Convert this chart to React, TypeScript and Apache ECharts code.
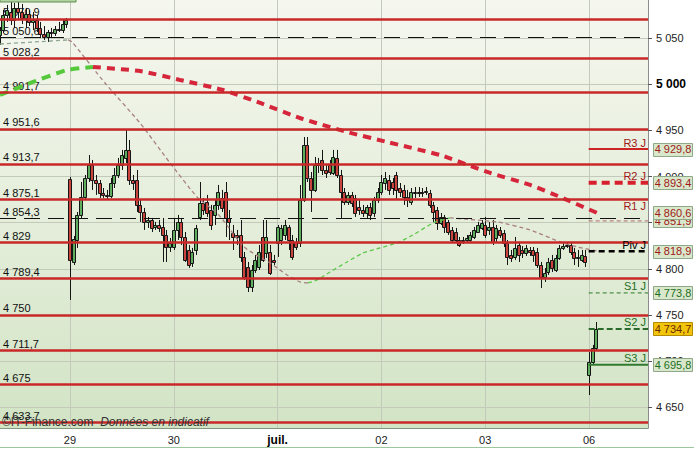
import React, { useEffect, useRef } from "react";
import * as echarts from "echarts";

const FONT = "'Liberation Sans', Arial, sans-serif";

// ---- axes ----
const dayTickIndex = [19, 47, 75, 103, 131, 159];
const dayLabels = ["29", "30", "juil.", "02", "03", "06"];
const priceTicks = [4650, 4700, 4750, 4800, 4850, 4900, 4950, 5000, 5050];
const X_MIN = 0.12;
const X_MAX = 174.9;
const Y_MIN = 4627.3;
const Y_MAX = 5091.5;

// ---- horizontal levels ----
const redLevels = [5070.9, 5028.2, 4991.7, 4951.6, 4913.7, 4875.1, 4829, 4789.4, 4750, 4711.7, 4675, 4633.7];
const blackDashedLevels = [5050.6, 4854.3];

// ---- daily pivots ----
const pivotNames = ["R3 J", "R2 J", "R1 J", "Piv J", "S1 J", "S2 J", "S3 J"];
const pivotValues = [4929.8, 4893.4, 4860.6, 4818.9, 4773.8, 4734.7, 4695.8];
const pivotStart = 158.9;
const extraTagValue = 4851.9;

// ---- candles (OHLC) per day ----
const open26 = [5053.6, 5059.0, 5075.3, 5078.5, 5069.9, 5082.9, 5078.5, 5072.0, 5076.4, 5067.7, 5069.9, 5061.2, 5054.7, 5051.4, 5056.8, 5055.7, 5060.1, 5059.0, 5065.5];
const close26 = [5059.0, 5075.3, 5080.7, 5069.9, 5082.9, 5078.5, 5072.0, 5076.4, 5067.7, 5069.9, 5061.2, 5054.7, 5051.4, 5056.8, 5055.7, 5060.1, 5059.0, 5065.5, 5069.9];
const low26 = [5042.7, 5055.7, 5067.7, 5064.4, 5061.2, 5069.9, 5065.5, 5061.2, 5063.3, 5059.0, 5056.8, 5050.3, 5048.2, 5046.0, 5050.3, 5052.5, 5056.8, 5055.7, 5061.2];
const high26 = [5062.2, 5080.7, 5086.1, 5089.4, 5088.3, 5090.5, 5087.2, 5082.9, 5080.7, 5078.5, 5075.3, 5067.7, 5063.3, 5059.0, 5061.2, 5063.3, 5067.7, 5069.9, 5072.0];

const open29 = [4897.4, 4807.4, 4831.2, 4858.4, 4877.9, 4898.5, 4912.6, 4896.3, 4893.0, 4882.2, 4880.1, 4878.9, 4893.0, 4901.7, 4912.6, 4920.2, 4928.9, 4896.3, 4896.3, 4869.2, 4861.6, 4850.8, 4852.9, 4845.3, 4847.5, 4845.3, 4836.7, 4823.6];
const close29 = [4809.6, 4832.3, 4858.4, 4877.9, 4898.5, 4912.6, 4896.3, 4893.0, 4882.2, 4880.1, 4878.9, 4893.0, 4901.7, 4912.6, 4923.4, 4928.9, 4896.3, 4893.0, 4869.2, 4861.6, 4850.8, 4852.9, 4844.3, 4847.5, 4844.3, 4836.7, 4823.6, 4828.0];
const low29 = [4766.2, 4804.1, 4822.6, 4855.1, 4874.6, 4894.1, 4885.5, 4880.1, 4876.8, 4876.8, 4874.6, 4876.8, 4887.6, 4898.5, 4907.2, 4914.8, 4890.9, 4885.5, 4861.6, 4850.8, 4842.1, 4844.3, 4839.9, 4842.1, 4839.9, 4807.4, 4807.4, 4818.2];
const high29 = [4899.6, 4835.6, 4861.6, 4894.1, 4901.7, 4923.4, 4918.0, 4901.7, 4896.3, 4887.6, 4885.5, 4898.5, 4909.3, 4920.2, 4928.9, 4950.5, 4939.7, 4901.7, 4907.2, 4874.6, 4866.0, 4856.2, 4855.1, 4850.8, 4852.9, 4855.1, 4842.1, 4833.4];

const open30 = [4823.6, 4842.1, 4850.8, 4834.5, 4820.4, 4806.3, 4820.4, 4856.2, 4871.4, 4872.5, 4863.8, 4858.4, 4869.2, 4876.8, 4883.3, 4855.1, 4838.8, 4836.7, 4836.7, 4812.8, 4802.0, 4780.3, 4798.7, 4802.0, 4834.5, 4817.1, 4818.2, 4809.6];
const close30 = [4842.1, 4850.8, 4834.5, 4809.6, 4804.1, 4818.2, 4844.3, 4871.4, 4863.8, 4860.5, 4847.5, 4869.2, 4883.3, 4866.0, 4855.1, 4850.8, 4834.5, 4834.5, 4812.8, 4791.1, 4780.3, 4798.7, 4809.6, 4818.2, 4809.6, 4834.5, 4795.5, 4807.4];
const low30 = [4820.4, 4831.2, 4825.8, 4807.4, 4800.9, 4802.0, 4815.0, 4852.9, 4858.4, 4856.2, 4842.1, 4847.5, 4863.8, 4861.6, 4834.5, 4831.2, 4820.4, 4825.8, 4807.4, 4787.9, 4774.8, 4774.8, 4795.5, 4798.7, 4807.4, 4811.7, 4793.3, 4804.1];
const high30 = [4855.1, 4858.4, 4855.1, 4839.9, 4825.8, 4822.6, 4847.5, 4894.1, 4876.8, 4880.1, 4869.2, 4874.6, 4890.9, 4885.5, 4894.1, 4863.8, 4847.5, 4842.1, 4852.9, 4818.2, 4807.4, 4804.1, 4815.0, 4825.8, 4852.9, 4852.9, 4825.8, 4815.0];

const open01 = [4828.0, 4831.2, 4836.7, 4845.3, 4831.2, 4829.1, 4828.0, 4874.6, 4934.3, 4898.5, 4885.5, 4912.6, 4918.0, 4907.2, 4912.6, 4903.9, 4920.2, 4901.7, 4883.3, 4872.5, 4880.1, 4876.8, 4867.0, 4863.8, 4860.5, 4867.0, 4860.5, 4874.6];
const close01 = [4845.3, 4844.3, 4847.5, 4831.2, 4812.8, 4823.6, 4874.6, 4934.3, 4898.5, 4885.5, 4912.6, 4914.8, 4907.2, 4903.9, 4905.0, 4921.3, 4901.7, 4883.3, 4872.5, 4880.1, 4871.4, 4860.5, 4863.8, 4860.5, 4867.0, 4858.4, 4874.6, 4883.3];
const low01 = [4812.8, 4825.8, 4831.2, 4820.4, 4809.6, 4820.4, 4823.6, 4872.5, 4894.1, 4861.6, 4883.3, 4903.9, 4901.7, 4898.5, 4901.7, 4901.7, 4898.5, 4855.1, 4869.2, 4869.2, 4867.0, 4856.2, 4858.4, 4856.2, 4855.1, 4852.9, 4856.2, 4871.4];
const high01 = [4847.5, 4847.5, 4852.9, 4847.5, 4836.7, 4833.4, 4890.9, 4942.9, 4942.9, 4905.0, 4921.3, 4920.2, 4928.9, 4912.6, 4918.0, 4928.9, 4928.9, 4907.2, 4887.6, 4883.3, 4883.3, 4880.1, 4874.6, 4869.2, 4869.2, 4871.4, 4877.9, 4887.6];

const open02 = [4883.3, 4893.0, 4896.3, 4894.1, 4901.7, 4887.6, 4885.5, 4877.9, 4872.5, 4883.3, 4882.2, 4883.3, 4883.3, 4882.2, 4869.2, 4863.8, 4849.7, 4856.2, 4850.8, 4842.1, 4839.9, 4831.2, 4831.2, 4831.2, 4831.2, 4834.5, 4839.9, 4844.3];
const close02 = [4894.1, 4898.5, 4885.5, 4887.6, 4885.5, 4883.3, 4877.9, 4874.6, 4883.3, 4882.2, 4883.3, 4882.2, 4884.4, 4869.2, 4861.6, 4849.7, 4856.2, 4845.3, 4839.9, 4831.2, 4831.2, 4825.8, 4830.1, 4833.4, 4836.7, 4842.1, 4847.5, 4849.7];
const low02 = [4880.1, 4885.5, 4880.1, 4880.1, 4874.6, 4877.9, 4869.2, 4867.0, 4869.2, 4876.8, 4877.9, 4877.9, 4880.1, 4866.0, 4850.8, 4842.1, 4847.5, 4838.8, 4836.7, 4829.1, 4828.0, 4823.6, 4826.9, 4828.0, 4829.1, 4832.3, 4838.8, 4842.1];
const high02 = [4901.7, 4905.0, 4901.7, 4898.5, 4905.0, 4893.0, 4890.9, 4885.5, 4887.6, 4888.7, 4888.7, 4887.6, 4888.7, 4885.5, 4872.5, 4867.0, 4860.5, 4858.4, 4852.9, 4845.3, 4844.3, 4834.5, 4834.5, 4836.7, 4839.9, 4845.3, 4850.8, 4852.9];

const open03 = [4847.5, 4842.1, 4845.3, 4833.4, 4842.1, 4838.8, 4828.0, 4815.0, 4812.8, 4825.8, 4820.4, 4817.1, 4820.4, 4820.4, 4818.2, 4804.1, 4791.1, 4796.5, 4809.6, 4798.7, 4811.7, 4822.6, 4824.7, 4825.8, 4818.2, 4811.7, 4809.6, 4813.9];
const close03 = [4836.7, 4845.3, 4829.1, 4844.3, 4836.7, 4828.0, 4812.8, 4811.7, 4822.6, 4815.0, 4817.1, 4822.6, 4818.2, 4815.0, 4804.1, 4791.1, 4795.5, 4807.4, 4800.9, 4811.7, 4822.6, 4824.7, 4825.8, 4818.2, 4811.7, 4812.8, 4815.0, 4807.4];
const low03 = [4833.4, 4836.7, 4825.8, 4829.1, 4833.4, 4823.6, 4804.1, 4807.4, 4809.6, 4807.4, 4811.7, 4813.9, 4813.9, 4807.4, 4800.9, 4779.2, 4785.7, 4793.3, 4796.5, 4796.5, 4809.6, 4820.4, 4822.6, 4815.0, 4804.1, 4802.0, 4807.4, 4802.0];
const high03 = [4856.2, 4850.8, 4852.9, 4847.5, 4845.3, 4842.1, 4831.2, 4820.4, 4834.5, 4829.1, 4824.7, 4825.8, 4823.6, 4823.6, 4822.6, 4807.4, 4800.9, 4811.7, 4815.0, 4815.0, 4825.8, 4828.0, 4828.0, 4828.0, 4822.6, 4820.4, 4820.4, 4820.4];

const open06 = [4684.8, 4698.9, 4714.1];
const close06 = [4698.9, 4714.1, 4734.7];
const low06 = [4663.1, 4695.6, 4711.9];
const high06 = [4709.7, 4717.4, 4742.3];

const candleOpen = [...open26, ...open29, ...open30, ...open01, ...open02, ...open03, ...open06];
const candleClose = [...close26, ...close29, ...close30, ...close01, ...close02, ...close03, ...close06];
const candleLow = [...low26, ...low29, ...low30, ...low01, ...low02, ...low03, ...low06];
const candleHigh = [...high26, ...high29, ...high30, ...high01, ...high02, ...high03, ...high06];

// ---- moving averages, [index, value] ----
const thinMaFlat = [[0.12, 5043.8], [9.56, 5046.0], [18.46, 5048.2]];
const thinMaFall1 = [[18.46, 5048.2], [19.54, 5046.0], [28.44, 5001.5], [37.88, 4958.1], [45.98, 4914.8], [53.26, 4877.9], [58.65, 4860.5], [60.27, 4852.9], [65.94, 4823.6], [72.95, 4806.3], [77.54, 4793.3], [81.04, 4785.7], [83.2, 4784.6]];
const thinMaRise = [[83.2, 4784.6], [85.63, 4787.9], [89.14, 4796.5], [93.72, 4807.4], [98.04, 4817.1], [102.63, 4822.6], [107.21, 4828.0], [111.53, 4836.7], [116.92, 4849.7], [121.51, 4855.1]];
const thinMaFall2 = [[121.51, 4855.1], [134.2, 4850.8], [143.1, 4842.1], [151.2, 4829.1], [155.8, 4823.6], [161.2, 4819.3]];
const thickMaRise = [[0.12, 4988.5], [9.02, 5002.6], [18.19, 5015.6], [25.2, 5018.9]];
const thickMaFall = [[25.2, 5018.9], [37.9, 5014.5], [48.7, 5004.8], [60.3, 4993.9], [70.3, 4979.8], [81.0, 4963.5], [93.7, 4948.4], [104.5, 4937.5], [118.8, 4923.4], [131.5, 4905.0], [143.1, 4890.9], [151.2, 4877.9], [161.2, 4860.5]];

const fmt = (v: number) => {
  const s = Number.isInteger(v) ? String(v) : v.toFixed(1);
  const [i, d] = s.split(".");
  const ii = i.replace(/\B(?=(\d{3})+(?!\d))/g, " ");
  return d ? `${ii},${d}` : ii;
};

const pivotLineStyles: any[] = [
  { color: "#cc2424", width: 2, type: "solid" },
  { color: "#d6202e", width: 4, type: [8, 5] },
  null,
  { color: "#000000", width: 2.5, type: [6, 4] },
  { color: "#2a7a2a", width: 1, type: [4, 3] },
  { color: "#2a6a2a", width: 2, type: [6, 3] },
  { color: "#2f7a2f", width: 2, type: "solid" },
];
const pivotTextColors = ["#a01818", "#a01818", "#a01818", "#000000", "#1e6e1e", "#1e6e1e", "#1e6e1e"];
const pivotBoxTextColors = ["#a01818", "#a01818", "#a01818", "#a01818", "#1e6e1e", "#6a2a00", "#1e6e1e"];

export default function App() {
  const ref = useRef<HTMLDivElement>(null);
  useEffect(() => {
    if (!ref.current) return;
    const chart = echarts.init(ref.current, null, { renderer: "svg" });
    const candleData = candleOpen.map((o, i) => [i, o, candleClose[i], candleLow[i], candleHigh[i]]);

    const maLine = (data: number[][], color: string, width: number, dash: number[], z: number, smooth: number, extra: any = {}) => ({
      type: "line",
      data,
      showSymbol: false,
      symbol: "none",
      smooth,
      silent: true,
      z,
      lineStyle: { color, width, type: dash, cap: "butt" },
      ...extra,
    });

    const pivotSeries: any[] = [];
    pivotValues.forEach((v, i) => {
      const st = pivotLineStyles[i];
      if (!st) return;
      pivotSeries.push({
        type: "line",
        data: [[pivotStart, v], [X_MAX, v]],
        symbol: "none",
        silent: true,
        z: 4,
        lineStyle: { ...st, cap: "butt" },
      });
    });
    pivotSeries.push({
      type: "line",
      data: [[pivotStart, extraTagValue], [X_MAX, extraTagValue]],
      symbol: "none",
      silent: true,
      z: 4,
      lineStyle: { color: "#b06a6a", width: 1, type: [4, 3] },
    });

    const option: any = {
      animation: false,
      backgroundColor: "#ffffff",
      grid: {
        left: 0,
        top: 0,
        width: 648,
        height: 428,
        show: true,
        borderWidth: 0,
        backgroundColor: new echarts.graphic.LinearGradient(0, 0, 0, 1, [
          { offset: 0, color: "#f5f7ef" },
          { offset: 0.5, color: "#e5eedb" },
          { offset: 1, color: "#d2e4c5" },
        ]),
      },
      xAxis: {
        type: "value",
        min: X_MIN,
        max: X_MAX,
        axisLine: { show: true, onZero: false, lineStyle: { color: "#7f9a7f", width: 1 } },
        axisTick: { show: false, customValues: dayTickIndex },
        axisLabel: {
          customValues: dayTickIndex,
          margin: 6,
          color: "#222",
          fontSize: 11,
          fontFamily: FONT,
          formatter: (v: number) => {
            const k = dayTickIndex.indexOf(Math.round(v));
            if (k < 0) return "";
            return dayLabels[k] === "juil." ? `{b|${dayLabels[k]}}` : dayLabels[k];
          },
          rich: { b: { fontWeight: "bold", fontSize: 12, fontFamily: FONT, color: "#000" } },
        },
        splitLine: { show: true, lineStyle: { color: "#c3c9bb", width: 1 } },
      },
      yAxis: {
        type: "value",
        position: "right",
        min: Y_MIN,
        max: Y_MAX,
        axisLine: { show: true, lineStyle: { color: "#8c8c8c", width: 1 } },
        axisTick: { show: true, length: 4, customValues: priceTicks, lineStyle: { color: "#555" } },
        axisLabel: {
          customValues: priceTicks,
          margin: 8,
          color: "#222",
          fontSize: 11,
          fontFamily: FONT,
          formatter: (v: number) => (v === 5000 ? `{b|${fmt(v)}}` : fmt(v)),
          rich: { b: { fontWeight: "bold", fontSize: 12, fontFamily: FONT, color: "#000" } },
        },
        splitLine: { show: true, lineStyle: { color: "#c3c9bb", width: 1 } },
      },
      series: [
        {
          type: "custom",
          z: 2,
          silent: true,
          clip: true,
          encode: { x: 0, y: [1, 2, 3, 4] },
          data: candleData,
          renderItem: (params: any, api: any) => {
            const x = api.value(0);
            const o = api.value(1);
            const c = api.value(2);
            const l = api.value(3);
            const h = api.value(4);
            const pO = api.coord([x, o]);
            const pC = api.coord([x, c]);
            const pL = api.coord([x, l]);
            const pH = api.coord([x, h]);
            const c0 = Math.round(pO[0]);
            const top = Math.round(Math.min(pO[1], pC[1])) + 0.5;
            const bot = Math.round(Math.max(pO[1], pC[1])) + 0.5;
            const up = c >= o;
            return {
              type: "group",
              children: [
                { type: "line", shape: { x1: c0 + 0.5, y1: pH[1], x2: c0 + 0.5, y2: pL[1] }, style: { stroke: "#151515", lineWidth: 1 } },
                {
                  type: "rect",
                  shape: { x: c0 - 1.5, y: top, width: 3, height: Math.max(1, bot - top) },
                  style: { fill: up ? "#5fae5f" : "#c8443c", stroke: "#151515", lineWidth: 1 },
                },
              ],
            };
          },
        },
        maLine(thinMaFlat, "#8fa78f", 1.3, [4, 3], 3, 0.2),
        maLine(thinMaFall1, "#a88080", 1.3, [4, 3], 3, 0.2),
        maLine(thinMaRise, "#5cc84c", 1.3, [4, 3], 3, 0.2),
        maLine(thinMaFall2, "#a88080", 1.3, [4, 3], 3, 0.2),
        maLine(thickMaRise, "#55c83c", 4, [9, 6], 3, 0.15),
        maLine(thickMaFall, "#d6263c", 4, [8, 6], 3, 0.15, {
          markLine: {
            silent: true,
            symbol: ["none", "none"],
            label: { show: false },
            lineStyle: { color: "#c82828", width: 2.5, type: "solid" },
            data: redLevels.map((v) => ({ yAxis: v })),
          },
        }),
        {
          type: "line",
          data: [[X_MIN, blackDashedLevels[0]], [X_MIN, blackDashedLevels[0]]],
          symbol: "none",
          silent: true,
          lineStyle: { opacity: 0 },
          markLine: {
            silent: true,
            symbol: ["none", "none"],
            label: { show: false },
            lineStyle: { color: "#111", width: 1, type: [16, 8] },
            data: blackDashedLevels.map((v) => ({ yAxis: v })),
          },
        },
        ...pivotSeries,
      ],
    };
    chart.setOption(option);

    const px = (x: number, y: number) => chart.convertToPixel({ gridIndex: 0 }, [x, y]) as number[];
    const right = px(X_MAX, Y_MIN)[0];
    const bottom = px(X_MAX, Y_MIN)[1];
    const els: any[] = [];

    // left level labels
    [...redLevels, ...blackDashedLevels].forEach((v) => {
      const y = px(X_MIN, v)[1];
      els.push({
        type: "text",
        z: 1,
        x: 3,
        y: y - 1,
        style: { text: fmt(v), fill: "#111", font: `11px ${FONT}`, align: "left", verticalAlign: "bottom" },
      });
    });

    // partly hidden extra tag box (behind R1)
    {
      const y = px(X_MAX, extraTagValue)[1];
      els.push({ type: "rect", z: 98, shape: { x: right + 5.5, y: Math.round(y - 6.5) + 0.5, width: 39, height: 13 }, style: { fill: "#d9e8cc", stroke: "#8fa888", lineWidth: 1 } });
      els.push({ type: "text", z: 98, x: right + 25, y: y, style: { text: fmt(extraTagValue), fill: "#a01818", font: `11px ${FONT}`, align: "center", verticalAlign: "middle" } });
    }

    pivotValues.forEach((v, i) => {
      const y = px(X_MAX, v)[1];
      els.push({
        type: "text",
        z: 100,
        x: right - 2,
        y: y - 1,
        style: { text: pivotNames[i], fill: pivotTextColors[i], font: `11px ${FONT}`, align: "right", verticalAlign: "bottom" },
      });
      const yellow = i === 5;
      els.push({
        type: "rect",
        z: 100,
        shape: { x: right + 5.5, y: Math.round(y - 6.5) + 0.5, width: 39, height: 13 },
        style: { fill: yellow ? "#f2c40c" : "#d9e8cc", stroke: yellow ? "#b08a00" : "#8fa888", lineWidth: 1 },
      });
      els.push({
        type: "text",
        z: 101,
        x: right + 25,
        y: y,
        style: { text: fmt(v), fill: pivotBoxTextColors[i], font: `11px ${FONT}`, align: "center", verticalAlign: "middle" },
      });
    });

    // watermark
    els.push({
      type: "text",
      z: 50,
      x: 2,
      y: bottom - 6,
      style: {
        text: "{a|©IT-Finance.com}  {b|Données en indicatif}",
        verticalAlign: "middle",
        rich: {
          a: { font: `12px ${FONT}`, fill: "#333" },
          b: { font: `italic 12px ${FONT}`, fill: "#333" },
        },
      },
    });

    // top-left panel edge and bottom line
    els.push({ type: "rect", z: 50, shape: { x: 0, y: -3, width: 76, height: 5 }, style: { fill: "#b3d2a3", stroke: "#5f8f4f", lineWidth: 1 } });
    els.push({ type: "line", z: 50, shape: { x1: 0, y1: 447.5, x2: 694, y2: 447.5 }, style: { stroke: "#9cc79c", lineWidth: 1 } });

    chart.setOption({ graphic: { elements: els } });
    return () => chart.dispose();
  }, []);
  return <div ref={ref} style={{ position: "absolute", left: 0, top: 0, width: 694, height: 449, background: "#fff" }} />;
}
